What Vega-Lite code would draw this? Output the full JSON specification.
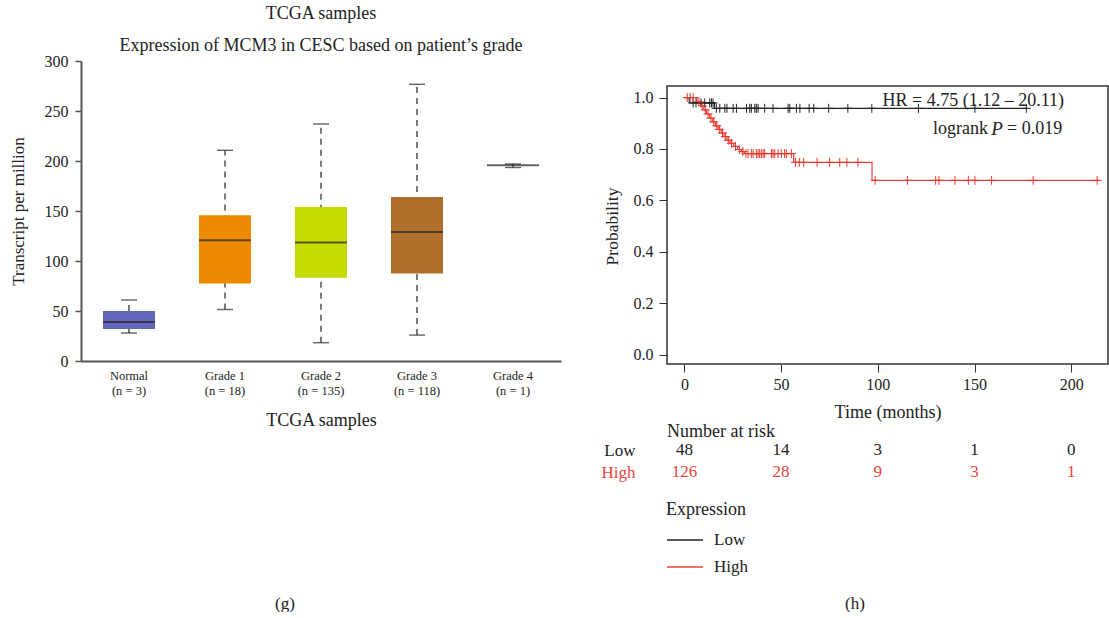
{
  "$schema": "https://vega.github.io/schema/vega-lite/v6.json",
  "background": "white",
  "padding": {"left": 9, "top": 4, "right": 0, "bottom": 0},
  "config": {
    "font": "Liberation Serif",
    "view": {"stroke": null},
    "axis": {"labelFont": "Liberation Serif", "titleFont": "Liberation Serif", "labelFontSize": 16, "titleFontSize": 16, "labelColor": "#222", "titleColor": "#222", "titleFontWeight": "normal", "grid": false, "domainColor": "#333", "tickColor": "#333"},
    "title": {"font": "Liberation Serif", "fontSize": 18, "fontWeight": "normal", "color": "#222", "subtitleFont": "Liberation Serif", "subtitleFontSize": 18, "subtitleColor": "#222"},
    "concat": {"spacing": 40}
  },
  "datasets": {
    "box": [
      {"group": "Normal (n = 3)", "lower": 28, "q1": 32, "median": 39, "q3": 50, "upper": 61},
      {"group": "Grade 1 (n = 18)", "lower": 51.5, "q1": 77.6, "median": 120.8, "q3": 145.7, "upper": 210.7},
      {"group": "Grade 2 (n = 135)", "lower": 18.3, "q1": 83.3, "median": 118.5, "q3": 154, "upper": 237},
      {"group": "Grade 3 (n = 118)", "lower": 25.9, "q1": 87.6, "median": 129, "q3": 164, "upper": 276.7},
      {"group": "Grade 4 (n = 1)", "lower": 193.5, "q1": 195.8, "median": 195.8, "q3": 195.8, "upper": 197}
    ],
    "km": [
      {"group": "Low", "t": 0, "s": 1.0},
      {"group": "Low", "t": 2.5, "s": 0.979},
      {"group": "Low", "t": 15.5, "s": 0.958},
      {"group": "Low", "t": 177, "s": 0.958},
      {"group": "High", "t": 0, "s": 1.0},
      {"group": "High", "t": 6.5, "s": 0.984},
      {"group": "High", "t": 8.5, "s": 0.968},
      {"group": "High", "t": 10, "s": 0.952},
      {"group": "High", "t": 11.5, "s": 0.936},
      {"group": "High", "t": 13, "s": 0.92},
      {"group": "High", "t": 14.5, "s": 0.905},
      {"group": "High", "t": 16, "s": 0.89},
      {"group": "High", "t": 17.5, "s": 0.876},
      {"group": "High", "t": 19, "s": 0.862},
      {"group": "High", "t": 20.5, "s": 0.848},
      {"group": "High", "t": 22, "s": 0.834},
      {"group": "High", "t": 23.5, "s": 0.822},
      {"group": "High", "t": 25.5, "s": 0.81},
      {"group": "High", "t": 27.5, "s": 0.798},
      {"group": "High", "t": 29.5, "s": 0.79},
      {"group": "High", "t": 31, "s": 0.782},
      {"group": "High", "t": 56.5, "s": 0.748},
      {"group": "High", "t": 97, "s": 0.678},
      {"group": "High", "t": 214.5, "s": 0.678}
    ],
    "cens": [
      {"group": "Low", "t": 4.5, "s": 0.979}, {"group": "Low", "t": 6, "s": 0.979}, {"group": "Low", "t": 8.6, "s": 0.979}, {"group": "Low", "t": 10.5, "s": 0.979}, {"group": "Low", "t": 13.1, "s": 0.979}, {"group": "Low", "t": 14.0, "s": 0.979}, {"group": "Low", "t": 14.8, "s": 0.979},
      {"group": "Low", "t": 16.5, "s": 0.958}, {"group": "Low", "t": 18.3, "s": 0.958}, {"group": "Low", "t": 20.9, "s": 0.958}, {"group": "Low", "t": 22, "s": 0.958}, {"group": "Low", "t": 25.2, "s": 0.958}, {"group": "Low", "t": 26.9, "s": 0.958}, {"group": "Low", "t": 32.1, "s": 0.958}, {"group": "Low", "t": 33.8, "s": 0.958}, {"group": "Low", "t": 34.6, "s": 0.958}, {"group": "Low", "t": 36.4, "s": 0.958}, {"group": "Low", "t": 37.2, "s": 0.958}, {"group": "Low", "t": 38.1, "s": 0.958}, {"group": "Low", "t": 41.5, "s": 0.958}, {"group": "Low", "t": 45.8, "s": 0.958}, {"group": "Low", "t": 53.6, "s": 0.958}, {"group": "Low", "t": 54.5, "s": 0.958}, {"group": "Low", "t": 57.9, "s": 0.958}, {"group": "Low", "t": 59.7, "s": 0.958}, {"group": "Low", "t": 64.5, "s": 0.958}, {"group": "Low", "t": 66.9, "s": 0.958}, {"group": "Low", "t": 74.6, "s": 0.958}, {"group": "Low", "t": 84.5, "s": 0.958}, {"group": "Low", "t": 96.9, "s": 0.958}, {"group": "Low", "t": 121, "s": 0.958}, {"group": "Low", "t": 150.2, "s": 0.958}, {"group": "Low", "t": 176.8, "s": 0.958},
      {"group": "High", "t": 1.5, "s": 1.0}, {"group": "High", "t": 3, "s": 1.0}, {"group": "High", "t": 4.5, "s": 1.0}, {"group": "High", "t": 7.5, "s": 0.984}, {"group": "High", "t": 9.2, "s": 0.968}, {"group": "High", "t": 10.8, "s": 0.952}, {"group": "High", "t": 12.2, "s": 0.936}, {"group": "High", "t": 13.7, "s": 0.92}, {"group": "High", "t": 15.2, "s": 0.905}, {"group": "High", "t": 16.7, "s": 0.89}, {"group": "High", "t": 18.2, "s": 0.876}, {"group": "High", "t": 19.7, "s": 0.862}, {"group": "High", "t": 21.2, "s": 0.848}, {"group": "High", "t": 22.7, "s": 0.834}, {"group": "High", "t": 24.4, "s": 0.822}, {"group": "High", "t": 26.4, "s": 0.81}, {"group": "High", "t": 28.4, "s": 0.798}, {"group": "High", "t": 30.2, "s": 0.79},
      {"group": "High", "t": 31.8, "s": 0.782}, {"group": "High", "t": 32.9, "s": 0.782}, {"group": "High", "t": 34.6, "s": 0.782}, {"group": "High", "t": 35.5, "s": 0.782}, {"group": "High", "t": 37.2, "s": 0.782}, {"group": "High", "t": 38.1, "s": 0.782}, {"group": "High", "t": 38.9, "s": 0.782}, {"group": "High", "t": 39.8, "s": 0.782}, {"group": "High", "t": 40.7, "s": 0.782}, {"group": "High", "t": 41.5, "s": 0.782}, {"group": "High", "t": 45, "s": 0.782}, {"group": "High", "t": 45.8, "s": 0.782}, {"group": "High", "t": 46.7, "s": 0.782}, {"group": "High", "t": 48.4, "s": 0.782}, {"group": "High", "t": 50.1, "s": 0.782}, {"group": "High", "t": 51.8, "s": 0.782}, {"group": "High", "t": 52.7, "s": 0.782}, {"group": "High", "t": 55.3, "s": 0.782},
      {"group": "High", "t": 57.4, "s": 0.748}, {"group": "High", "t": 59.4, "s": 0.748}, {"group": "High", "t": 61.7, "s": 0.748}, {"group": "High", "t": 68.6, "s": 0.748}, {"group": "High", "t": 75.1, "s": 0.748}, {"group": "High", "t": 80.3, "s": 0.748}, {"group": "High", "t": 84.0, "s": 0.748}, {"group": "High", "t": 89.7, "s": 0.748},
      {"group": "High", "t": 98.6, "s": 0.678}, {"group": "High", "t": 115.3, "s": 0.678}, {"group": "High", "t": 129.9, "s": 0.678}, {"group": "High", "t": 131.6, "s": 0.678}, {"group": "High", "t": 139.9, "s": 0.678}, {"group": "High", "t": 146.8, "s": 0.678}, {"group": "High", "t": 150.2, "s": 0.678}, {"group": "High", "t": 158.8, "s": 0.678}, {"group": "High", "t": 180.3, "s": 0.678}, {"group": "High", "t": 213.4, "s": 0.678}
    ],
    "risk": [
      {"group": "Low", "time": 0, "n": 48}, {"group": "Low", "time": 50, "n": 14}, {"group": "Low", "time": 100, "n": 3}, {"group": "Low", "time": 150, "n": 1}, {"group": "Low", "time": 200, "n": 0},
      {"group": "High", "time": 0, "n": 126}, {"group": "High", "time": 50, "n": 28}, {"group": "High", "time": 100, "n": 9}, {"group": "High", "time": 150, "n": 3}, {"group": "High", "time": 200, "n": 1}
    ],
    "notes": [
      {"label": "HR = 4.75 (1.12 – 20.11)"}
    ]
  },
  "hconcat": [
    {
      "title": {"text": "(g)", "orient": "bottom", "anchor": "middle", "frame": "bounds", "offset": 167, "fontSize": 17},
      "vconcat": [
        {
          "width": 480,
          "height": 300,
          "title": {"text": "TCGA samples", "subtitle": "Expression of MCM3 in CESC based on patient’s grade", "anchor": "middle", "offset": -2, "subtitlePadding": 14.5},
          "data": {"name": "box"},
          "encoding": {
            "x": {"field": "group", "type": "nominal", "sort": null, "scale": {"paddingInner": 0, "paddingOuter": 0},
              "axis": {"title": "TCGA samples", "titleFontSize": 18, "labelAngle": 0, "labelFontSize": 12.5, "labelLineHeight": 15.5, "labelPadding": 8, "ticks": false, "tickSize": 0, "domainColor": "#555", "domainWidth": 2, "titlePadding": 14,
                "labelExpr": "[slice(datum.label, 0, indexof(datum.label, ' (')), slice(datum.label, indexof(datum.label, ' (') + 1)]"}}
          },
          "layer": [
            {"mark": {"type": "rule", "strokeDash": [6, 5], "color": "#222", "strokeWidth": 1.2},
              "encoding": {"y": {"field": "lower", "type": "quantitative", "title": "Transcript per million", "scale": {"domain": [0, 300], "nice": false},
                "axis": {"values": [0, 50, 100, 150, 200, 250, 300], "domainColor": "#555", "domainWidth": 2, "tickSize": 6, "tickWidth": 1.5, "tickColor": "#555", "labelPadding": 7, "titlePadding": 17, "titleFontSize": 17}},
                "y2": {"field": "upper"}}},
            {"mark": {"type": "tick", "size": 16, "thickness": 1.4, "color": "#222"},
              "encoding": {"y": {"field": "lower", "type": "quantitative", "title": "Transcript per million"}}},
            {"mark": {"type": "tick", "size": 16, "thickness": 1.4, "color": "#222"},
              "encoding": {"y": {"field": "upper", "type": "quantitative", "title": "Transcript per million"}}},
            {"mark": {"type": "bar", "width": 52},
              "encoding": {"y": {"field": "q1", "type": "quantitative", "title": "Transcript per million"}, "y2": {"field": "q3"},
                "fill": {"field": "group", "type": "nominal", "legend": null,
                  "scale": {"domain": ["Normal (n = 3)", "Grade 1 (n = 18)", "Grade 2 (n = 135)", "Grade 3 (n = 118)", "Grade 4 (n = 1)"], "range": ["#6267BC", "#EE8A00", "#C5DA00", "#B06E2C", "#222222"]}}}},
            {"mark": {"type": "tick", "size": 52, "thickness": 2, "color": "#222"},
              "encoding": {"y": {"field": "median", "type": "quantitative", "title": "Transcript per million"}}}
          ]
        }
      ]
    },
    {
      "title": {"text": "(h)", "orient": "bottom", "anchor": "middle", "frame": "bounds", "offset": 113, "fontSize": 17},
      "spacing": 2,
      "vconcat": [
        {
          "width": 441,
          "height": 303,
          "layer": [
            {"data": {"name": "notes"},
              "mark": {"type": "rect", "fill": "transparent", "stroke": "#333", "strokeWidth": 1.5},
              "encoding": {"x": {"datum": -9}, "x2": {"datum": 219}, "y": {"datum": -0.036}, "y2": {"datum": 1.045}}},
            {"data": {"name": "km"},
              "mark": {"type": "line", "interpolate": "step-after", "strokeWidth": 1.2},
              "encoding": {
                "x": {"field": "t", "type": "quantitative", "scale": {"domain": [-9, 219], "nice": false, "zero": false},
                  "axis": {"values": [0, 50, 100, 150, 200], "title": "Time (months)", "titleFontSize": 18, "domain": false, "tickSize": 8, "labelPadding": 4, "titlePadding": 11}},
                "y": {"field": "s", "type": "quantitative", "scale": {"domain": [-0.036, 1.142], "nice": false, "zero": false},
                  "axis": {"values": [0, 0.2, 0.4, 0.6, 0.8, 1.0], "format": ".1f", "title": "Probability", "titleFontSize": 17.5, "titleY": 165, "domain": false, "tickSize": 8, "labelPadding": 6, "titlePadding": 12}},
                "color": {"field": "group", "type": "nominal",
                  "scale": {"domain": ["Low", "High"], "range": ["#222222", "#e8453c"]},
                  "legend": {"title": "Expression", "orient": "none", "legendX": 585, "legendY": 440, "direction": "vertical", "symbolType": "stroke", "symbolSize": 1296, "symbolStrokeWidth": 1.5, "labelFontSize": 17, "titleFontSize": 18, "titleFontWeight": "normal", "labelFont": "Liberation Serif", "titleFont": "Liberation Serif", "labelOffset": 10, "rowPadding": 0, "titlePadding": 2, "labelColor": "#222", "titleColor": "#222"}}
              }},
            {"data": {"name": "cens"},
              "mark": {"type": "point", "shape": "M-1,0L1,0M0,-1L0,1", "filled": false, "size": 81, "strokeWidth": 1, "opacity": 1},
              "encoding": {
                "x": {"field": "t", "type": "quantitative"},
                "y": {"field": "s", "type": "quantitative"},
                "color": {"condition": {"test": "datum.group === 'High'", "value": "#e8392f"}, "value": "#222"}
              }},
            {"data": {"name": "notes"},
              "mark": {"type": "text", "align": "right", "baseline": "middle", "fontSize": 18, "color": "#222"},
              "encoding": {"x": {"datum": 196.3}, "y": {"datum": 0.986}, "text": {"field": "label"}}},
            {"data": {"name": "notes"},
              "mark": {"type": "text", "align": "right", "baseline": "middle", "fontSize": 18, "color": "#222", "text": "logrank"},
              "encoding": {"x": {"datum": 157}, "y": {"datum": 0.877}}},
            {"data": {"name": "notes"},
              "mark": {"type": "text", "align": "center", "baseline": "middle", "fontSize": 19, "fontStyle": "italic", "color": "#222", "text": "P"},
              "encoding": {"x": {"datum": 161.6}, "y": {"datum": 0.877}}},
            {"data": {"name": "notes"},
              "mark": {"type": "text", "align": "left", "baseline": "middle", "fontSize": 18, "color": "#222", "text": "= 0.019"},
              "encoding": {"x": {"datum": 166.8}, "y": {"datum": 0.877}}}
          ]
        },
        {
          "width": 441,
          "height": 44,
          "title": {"text": "Number at risk", "anchor": "start", "frame": "group", "offset": -2, "fontSize": 18},
          "data": {"name": "risk"},
          "mark": {"type": "text", "fontSize": 17, "baseline": "middle"},
          "encoding": {
            "x": {"field": "time", "type": "quantitative", "scale": {"domain": [-9, 219], "nice": false, "zero": false}, "axis": null},
            "y": {"field": "group", "type": "nominal", "sort": ["Low", "High"],
              "axis": {"title": null, "domain": false, "ticks": false, "tickSize": 0, "labelPadding": 32, "labelFontSize": 17,
                "labelColor": {"condition": {"test": "datum.value === 'High'", "value": "#e8453c"}, "value": "#222"}}},
            "text": {"field": "n", "type": "quantitative"},
            "color": {"condition": {"test": "datum.group === 'High'", "value": "#e8453c"}, "value": "#222"}
          }
        }
      ]
    }
  ]
}
